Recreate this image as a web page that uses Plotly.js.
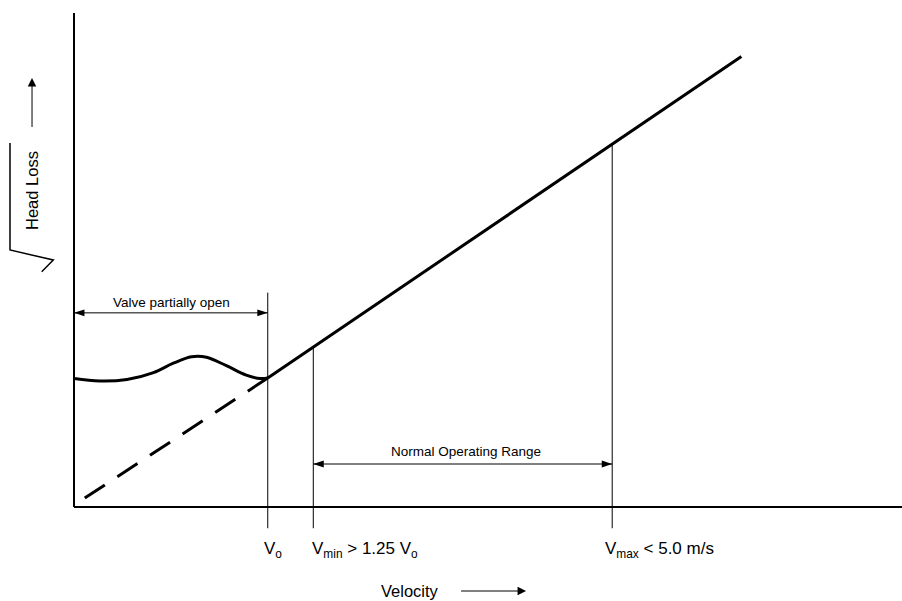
<!DOCTYPE html>
<html>
<head>
<meta charset="utf-8">
<script src="https://cdn.plot.ly/plotly-3.0.1.min.js"></script>
<style>html,body{margin:0;padding:0;background:#fff;}#chart{width:902px;height:601px;}</style>
</head>
<body>
<div id="chart"></div>
<script>
// ---- data (arbitrary velocity / sqrt(head loss) units) ----
const curveX = [0, 0.31, 0.64, 0.96, 1.2, 1.42, 1.6, 1.84, 2.08, 2.25, 2.34];
const curveY = [2.60, 2.55, 2.58, 2.72, 2.91, 3.04, 3.03, 2.86, 2.67, 2.60, 2.61];
const dashedX = [0.13, 2.34];
const dashedY = [0.18, 2.61];
const lineX = [2.34, 8.06];
const lineY = [2.61, 9.12];
const markerX = [2.34, 2.89, 6.50];
const markerTop = [4.34, 3.23, 7.33];
const markerBottom = -0.43;
const tickLabels = ['V<sub>o</sub>', 'V<sub>min</sub> > 1.25 V<sub>o</sub>', 'V<sub>max</sub> < 5.0 m/s'];
const labelX = [2.27, 2.85, 6.39];
const valveRange = [0, 2.34];
const valveY = [3.93, 3.93];
const normalRange = [2.89, 6.50];
const normalY = [0.87, 0.87];

const FONT = 'Liberation Sans, Arial, sans-serif';

const mx = [], my = [];
markerX.forEach((v, i) => { mx.push(v, v, null); my.push(markerBottom, markerTop[i], null); });

const dblArrow = (xs, ys) => ({x: xs, y: ys, mode: 'lines+markers', hoverinfo: 'skip',
  line: {color: '#000', width: 1},
  marker: {symbol: 'arrow', size: 11, angle: [-90, 90], color: '#000', line: {width: 0}}});

const traces = [
  {x: mx, y: my, mode: 'lines', line: {color: '#000', width: 1}, hoverinfo: 'skip'},
  {x: dashedX, y: dashedY, mode: 'lines', line: {color: '#000', width: 3, dash: '24px,15px'}, hoverinfo: 'skip'},
  {x: curveX, y: curveY, mode: 'lines', line: {color: '#000', width: 3, shape: 'spline', smoothing: 1}, hoverinfo: 'skip'},
  {x: lineX, y: lineY, mode: 'lines', line: {color: '#000', width: 3}, hoverinfo: 'skip'},
  dblArrow(valveRange, valveY),
  dblArrow(normalRange, normalY)
];

const annotations = [];
tickLabels.forEach((t, i) => annotations.push({x: labelX[i], y: -0.0387, xref: 'x', yref: 'paper', text: t, showarrow: false,
  xanchor: 'left', yanchor: 'middle', font: {family: FONT, size: 17, color: '#000'}}));
annotations.push(
  {x: 1.18, y: 4.13, xref: 'x', yref: 'y', text: 'Valve partially open', showarrow: false, xanchor: 'center', yanchor: 'middle',
   font: {family: FONT, size: 13.5, color: '#000'}},
  {x: 4.74, y: 1.13, xref: 'x', yref: 'y', text: 'Normal Operating Range', showarrow: false, xanchor: 'center', yanchor: 'middle',
   font: {family: FONT, size: 13.5, color: '#000'}},
  // axis titles with their arrows (arrow starts at padded text box edge)
  {x: 5.46, y: -0.118, xref: 'x', yref: 'paper', axref: 'pixel', ayref: 'pixel', ax: -116.5, ay: 0,
   text: 'Velocity', showarrow: true, arrowhead: 2, arrowsize: 1.7, arrowwidth: 1, arrowcolor: '#000', borderpad: 22, standoff: 0,
   xanchor: 'center', yanchor: 'middle', font: {family: FONT, size: 16.5, color: '#000'}},
  {x: -0.0507, y: 0.8743, xref: 'paper', yref: 'paper', axref: 'pixel', ayref: 'pixel', ax: 0, ay: 113,
   text: 'Head Loss', textangle: -90, showarrow: true, arrowhead: 2, arrowsize: 1.7, arrowwidth: 1, arrowcolor: '#000', borderpad: 24, standoff: 0,
   xanchor: 'center', yanchor: 'middle', font: {family: FONT, size: 16.5, color: '#000'}}
);

const layout = {
  width: 902, height: 601,
  margin: {l: 74, r: 0, t: 13, b: 71},
  paper_bgcolor: '#fff', plot_bgcolor: '#fff',
  showlegend: false,
  font: {family: FONT, color: '#000'},
  xaxis: {range: [0, 10], showgrid: false, zeroline: false, showticklabels: false, ticks: '', showline: false, fixedrange: true},
  yaxis: {range: [-0.466, 10], showgrid: false, zeroline: false, showticklabels: false, ticks: '', showline: false, fixedrange: true},
  shapes: [
    {type: 'line', xref: 'paper', yref: 'y', x0: 0, x1: 1, y0: 0, y1: 0, line: {color: '#000', width: 2}},
    {type: 'line', xref: 'paper', yref: 'y', x0: 0, x1: 0, y0: 0, y1: 10, line: {color: '#000', width: 2}},
    {type: 'path', xref: 'paper', yref: 'paper', path: 'M -0.0773 0.7485 L -0.0773 0.5416 L -0.0250 0.5222 L -0.0390 0.4996', line: {color: '#000', width: 1.5}}
  ],
  annotations: annotations
};

Plotly.newPlot('chart', traces, layout, {staticPlot: true, displayModeBar: false});
</script>
</body>
</html>
